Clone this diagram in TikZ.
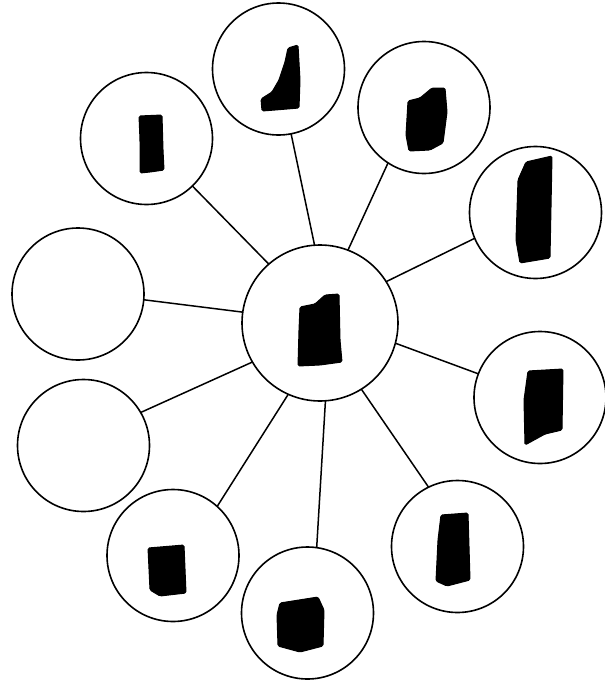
\documentclass[tikz,border=0pt]{standalone}
\usetikzlibrary{calc}

\begin{document}
\begin{tikzpicture}[
  x=1pt, y=-1pt,
  ring/.style={draw, circle, line width=1.6pt, inner sep=0pt, outer sep=0pt},
  hub/.style={ring, minimum size=156pt},
  sat/.style={ring, minimum size=132pt},
  link/.style={line width=1.5pt},
  blot/.style={fill=black, draw=black, line width=1pt, line join=round, rounded corners=1.5pt}
]
\useasboundingbox (0,0) rectangle (605,686);

% hub and satellites
\node[hub] (hub) at (320,323) {};
\node[sat] (ul)  at (146.5,138.5) {};
\node[sat] (up)  at (278.5,69) {};
\node[sat] (ur)  at (424,107.5) {};
\node[sat] (rt)  at (535.5,212.5) {};
\node[sat] (lr)  at (540,397.5) {};
\node[sat] (br)  at (457.5,546.5) {};
\node[sat] (bt)  at (307.5,613) {};
\node[sat] (bl)  at (173,555.5) {};
\node[sat] (ll)  at (83.5,445.5) {};
\node[sat] (lt)  at (78,294) {};

% spokes
\draw[link] (hub.131) -- (ul.314);
\draw[link] (hub.94)  -- (up.281);
\draw[link] (hub.69)  -- (ur.237);
\draw[link] (hub.32.5) -- (rt.203);
\draw[link] (hub.345) -- (lr.159);
\draw[link] (hub.302) -- (br.116);
\draw[link] (hub.274) -- (bt.82);
\draw[link] (hub.246) -- (bl.48);
\draw[link] (hub.210.6) -- (ll.30.5);
\draw[link] (hub.172) -- (lt.355);

% blacked-out labels
\fill[blot] (300,307) -- (315,304) -- (325,295) -- (339,294) -- (340,340) -- (342,362) -- (320,365) -- (298,366) -- (299,330) -- cycle;
\fill[blot] (139,116) -- (162,115) -- (163,150) -- (164,170) -- (150,172) -- (140,173) -- (140,140) -- cycle;
\fill[blot] (288,48) -- (298,45) -- (300,80) -- (299,108) -- (275,110) -- (262,111) -- (261,99) -- (272,92) -- (279,80) -- (285,62) -- cycle;
\fill[blot] (408,101) -- (420,98) -- (432,88) -- (445,88) -- (447,112) -- (443,143) -- (430,150) -- (409,151) -- (406,135) -- cycle;
\fill[blot] (526,162) -- (552,156) -- (550,258) -- (520,263) -- (516,240) -- (518,180) -- cycle;
\fill[blot] (528,371) -- (563,369) -- (562,430) -- (545,434) -- (525,445) -- (524,400) -- cycle;
\fill[blot] (441,515) -- (468,513) -- (470,580) -- (447,586) -- (436,581) -- (438,540) -- cycle;
\fill[blot] (280,603) -- (318,597) -- (324,610) -- (323,646) -- (300,652) -- (278,646) -- (277,615) -- cycle;
\fill[blot] (148,548) -- (184,545) -- (186,593) -- (160,596) -- (150,590) -- cycle;
\end{tikzpicture}
\end{document}
